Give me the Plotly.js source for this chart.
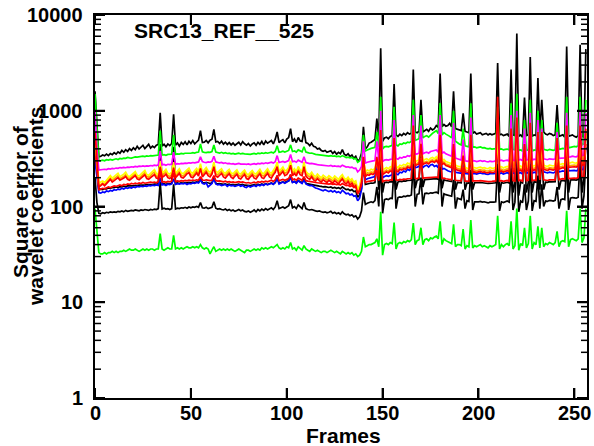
<!DOCTYPE html>
<html><head><meta charset="utf-8">
<script src="https://cdn.plot.ly/plotly-3.0.1.min.js"></script>
<style>html,body{margin:0;padding:0;background:#fff}#chart{width:594px;height:446px}</style>
</head><body><div id="chart"></div>
<script>
// Square error of wavelet coefficients per frame (frames 0..256)
const blackTop = [
1600,700,330,335,345,338,352,340,358,348,
365,352,372,360,385,368,392,376,402,385,
410,392,425,398,412,436,402,424,446,408,
428,412,436,445,950,428,446,420,450,432,
455,920,436,460,428,466,445,475,440,480,
455,488,450,472,495,620,465,470,490,462,
492,505,640,472,478,455,480,448,470,445,
465,440,460,436,455,468,440,476,452,438,
455,428,450,462,436,468,446,478,440,482,
458,476,488,450,505,600,465,485,498,462,
505,525,650,475,508,466,526,484,478,620,
465,455,432,458,425,418,398,405,385,378,
385,368,372,382,358,375,352,368,356,392,
352,342,355,332,345,318,335,300,310,360,
680,400,420,460,470,480,500,830,510,4500,
480,520,530,510,540,550,1900,560,540,570,
550,580,560,590,570,580,2700,600,590,610,
1300,600,620,640,610,660,630,650,700,670,
2450,680,720,690,700,740,680,1600,650,640,
630,620,940,610,600,590,2450,580,600,570,
580,590,560,570,580,560,575,560,570,580,
3150,560,570,550,560,570,540,2700,560,550,
6400,540,560,530,1370,550,560,3650,540,560,
550,2200,580,1300,600,570,560,580,570,550,
560,1150,540,550,560,530,4700,540,550,560,
540,530,550,4900,540,530,4400];
const greenTop = [
1500,600,300,302,305,300,308,305,310,306,
312,315,310,318,315,320,318,325,322,320,
325,330,328,332,330,335,332,338,335,340,
338,342,340,345,620,345,348,342,350,348,
352,560,350,355,352,358,355,360,358,362,
360,365,362,368,370,450,372,368,365,370,
368,375,440,370,365,362,368,360,365,358,
360,355,358,352,356,360,354,358,355,352,
355,350,354,358,352,360,356,362,358,365,
360,365,370,362,375,430,368,372,378,370,
380,385,440,375,380,370,390,378,372,420,
370,365,360,362,355,350,348,345,342,340,
342,338,336,340,335,338,332,335,330,340,
330,325,328,322,325,315,318,290,300,330,
560,380,390,400,405,410,415,600,420,1400,
400,420,425,420,430,435,1100,440,430,450,
445,460,455,470,465,480,1300,490,500,510,
900,520,540,550,530,560,580,600,620,580,
1200,560,590,570,560,540,520,1000,480,460,
450,440,650,430,425,420,1200,415,420,410,
415,420,410,412,405,400,405,398,400,402,
1100,395,400,390,395,398,390,1200,395,390,
1500,385,390,380,800,385,390,1300,380,390,
385,1000,390,800,395,390,385,395,390,385,
390,750,395,400,405,400,1400,410,415,420,
425,420,430,1400,440,450,1300];
const magentaLine = [
1000,400,240,242,240,245,243,248,246,250,
248,252,250,255,253,256,254,258,256,260,
258,262,260,264,262,265,263,266,264,268,
266,270,268,272,380,272,275,270,276,274,
278,370,276,280,278,282,280,284,282,286,
284,288,286,290,292,330,294,290,288,292,
290,296,335,292,288,285,288,282,286,280,
282,278,280,276,279,282,277,280,278,275,
278,274,277,280,276,282,279,284,280,286,
282,286,290,284,294,340,288,292,296,290,
298,302,350,294,298,290,305,295,290,330,
288,284,280,282,278,276,274,272,270,268,
270,266,265,268,263,266,262,264,260,270,
262,258,260,255,258,250,252,230,240,262,
480,285,290,295,298,300,302,480,305,1000,
295,305,308,305,310,312,800,318,312,325,
320,330,328,340,335,345,900,350,355,360,
700,355,365,370,360,375,380,385,390,370,
900,360,370,355,350,340,335,750,320,315,
310,305,500,300,298,295,850,298,300,295,
298,302,296,300,295,292,298,294,296,300,
850,300,305,298,302,305,298,900,305,300,
1000,305,310,300,650,305,310,950,305,312,
308,800,312,650,315,310,308,315,312,310,
315,600,318,320,325,322,950,328,330,335,
332,330,338,1000,340,345,950];
const yellowLine = [
600,300,175,180,185,178,190,200,210,198,
205,215,222,205,210,218,228,210,205,215,
225,232,212,208,218,230,238,215,212,222,
235,242,220,215,300,225,232,245,222,218,
228,290,222,235,248,225,220,232,245,252,
228,222,238,250,232,280,228,240,255,235,
228,242,290,232,226,238,248,228,222,235,
245,225,220,232,242,222,218,230,240,220,
215,228,238,222,218,232,245,225,220,235,
248,228,222,238,255,290,232,245,258,235,
240,255,300,235,248,232,262,240,235,290,
232,222,215,228,212,205,218,208,200,212,
205,198,210,202,195,208,198,192,205,215,
198,192,202,188,195,180,185,150,165,200,
320,230,240,235,245,240,250,320,245,620,
240,250,255,248,260,255,600,262,255,270,
265,275,270,285,278,290,650,295,300,305,
500,300,310,315,305,320,325,315,330,310,
600,300,310,295,290,285,280,500,270,265,
262,258,380,255,252,250,560,252,255,250,
255,258,252,255,250,248,255,250,252,256,
560,255,260,252,258,262,255,600,260,255,
650,260,265,255,420,260,265,620,260,268,
262,500,268,420,270,265,262,270,268,265,
270,400,272,275,280,276,620,282,285,290,
286,284,292,640,295,300,600];
const orangeLine = [
550,280,165,170,176,170,180,190,198,188,
195,204,210,196,200,206,215,200,196,205,
212,220,202,198,206,218,225,205,202,210,
222,228,208,205,280,212,220,230,210,206,
215,270,210,222,235,212,208,220,232,238,
215,210,225,236,220,265,215,228,240,222,
215,230,275,220,214,225,235,216,210,222,
232,213,208,220,230,210,206,218,228,208,
204,216,226,210,206,220,232,212,208,222,
235,216,210,226,240,275,220,232,245,222,
228,242,285,222,235,220,248,228,222,275,
220,210,204,215,200,195,206,196,190,200,
194,188,198,190,185,196,188,182,194,204,
188,182,192,178,185,170,176,142,156,190,
300,215,225,222,230,226,235,300,232,580,
226,235,240,234,245,240,560,246,240,255,
250,258,255,268,262,272,600,278,282,288,
470,284,292,296,288,302,306,298,312,292,
560,284,292,278,274,268,264,470,255,250,
246,243,360,240,238,236,520,238,240,236,
240,243,238,240,236,234,240,236,238,242,
520,240,245,238,243,247,240,560,245,240,
600,245,250,240,390,245,250,580,245,252,
247,470,252,390,255,250,247,255,252,250,
255,375,256,260,264,260,580,266,268,272,
270,268,275,600,278,282,560];
const redUpper = [
600,280,160,165,172,165,175,185,192,180,
186,195,200,188,192,198,206,192,188,196,
204,210,194,190,198,208,214,196,192,200,
210,216,198,195,260,202,208,218,200,196,
204,255,200,210,222,202,198,208,220,226,
204,200,212,224,208,250,204,216,228,210,
204,218,260,208,202,212,222,204,198,210,
220,202,196,208,218,198,194,206,216,196,
192,204,214,198,194,208,220,200,196,210,
222,204,198,214,228,260,208,220,232,210,
215,230,270,210,222,208,236,215,210,260,
208,198,192,204,190,185,195,186,180,190,
184,178,188,180,175,186,178,172,184,194,
178,172,182,168,175,160,166,135,148,180,
330,205,215,212,220,216,225,330,222,630,
216,225,230,224,235,230,520,236,230,245,
240,248,245,258,252,262,700,268,272,278,
450,274,282,286,278,292,296,288,302,282,
560,274,282,268,264,258,254,450,245,240,
236,233,340,230,228,226,560,228,230,226,
230,233,228,230,226,224,230,226,228,232,
1400,230,235,228,233,237,230,650,235,230,
850,235,240,230,450,235,240,750,235,242,
237,600,242,600,245,240,237,245,242,240,
245,520,246,250,254,250,700,256,258,262,
260,258,265,700,268,272,650];
const redLower = [
400,220,150,152,155,153,158,160,158,162,
164,162,166,168,165,170,168,172,170,174,
172,175,173,176,174,178,175,177,176,180,
178,180,177,182,230,180,182,179,183,181,
184,225,182,185,183,186,184,187,185,188,
186,189,187,190,188,205,189,187,190,188,
186,189,210,187,184,185,183,181,184,180,
182,179,181,178,180,182,179,181,178,176,
178,175,177,180,176,182,179,183,180,184,
181,185,188,183,190,210,186,189,192,188,
194,196,215,190,194,188,198,192,188,205,
186,184,182,183,180,178,177,176,175,173,
174,172,171,173,170,172,169,171,168,174,
168,165,167,162,165,158,160,140,148,168,
260,178,182,184,186,185,188,240,186,400,
182,186,188,186,190,189,380,190,188,192,
190,193,192,195,194,196,420,197,196,199,
320,197,199,200,198,201,200,202,203,200,
400,196,198,195,194,192,190,330,188,187,
186,185,260,184,184,183,380,184,185,184,
185,186,184,185,183,182,184,183,184,185,
500,184,186,183,185,187,184,420,186,184,
520,186,188,184,320,186,188,450,186,189,
187,380,189,320,190,188,187,190,189,188,
190,300,191,193,195,193,460,196,197,199,
198,197,200,480,202,204,450];
const blueLine = [
300,200,140,138,142,140,145,143,147,145,
150,148,152,150,155,152,157,155,158,156,
160,158,162,160,163,161,164,162,166,164,
167,165,168,166,200,168,170,166,171,169,
172,195,170,173,171,174,172,175,170,174,
172,176,174,178,176,190,175,172,176,160,
168,174,195,172,168,170,165,168,170,162,
168,164,166,162,165,168,163,166,160,158,
164,160,163,166,162,168,165,170,166,172,
168,172,175,170,178,195,172,176,180,175,
182,185,200,178,182,175,186,178,174,190,
172,168,165,166,160,156,154,152,150,146,
150,145,143,147,142,146,140,143,138,148,
140,136,138,132,135,128,130,115,122,150,
250,190,195,198,200,202,205,260,205,380,
200,206,210,207,212,215,360,220,215,228,
225,235,230,245,238,250,400,255,258,262,
320,255,265,270,258,272,275,262,268,255,
380,245,250,240,236,232,230,320,228,226,
224,222,280,220,220,218,360,220,222,218,
222,224,220,222,218,216,220,218,220,222,
420,220,224,218,222,225,220,400,224,220,
450,222,226,218,300,222,226,420,222,228,
224,340,228,300,230,226,224,228,226,224,
228,290,229,232,235,232,420,236,238,240,
238,236,240,430,242,245,420];
const blackMid = [
500,250,150,152,150,154,153,156,155,158,
157,160,158,161,160,163,161,164,163,165,
164,166,165,167,166,168,167,169,168,170,
169,171,170,172,450,171,173,170,174,172,
175,420,173,176,174,177,175,178,176,179,
177,180,178,181,179,200,178,176,179,175,
174,177,205,175,172,173,171,170,172,169,
171,168,170,167,169,171,168,170,167,166,
168,165,167,170,166,171,168,172,169,173,
170,174,176,172,178,210,175,178,181,177,
183,185,215,180,183,177,187,181,177,200,
175,172,170,171,168,165,164,163,162,160,
161,159,158,160,156,158,155,157,153,160,
154,150,152,147,150,143,145,125,132,155,
320,170,172,175,176,175,178,300,150,700,
140,178,180,178,182,181,550,150,180,184,
182,185,184,187,186,188,600,155,188,191,
450,160,191,192,190,193,192,194,195,192,
550,155,190,187,186,184,182,400,150,179,
178,177,300,150,176,175,500,150,177,176,
177,178,176,177,175,174,176,175,176,177,
600,140,178,175,177,179,176,550,140,176,
700,130,180,176,350,140,180,600,140,181,
179,450,150,350,150,180,179,182,181,180,
182,330,150,185,187,185,650,140,189,191,
190,189,192,650,140,196,600];
const blackBottom = [
200,110,85,84,86,85,87,86,88,87,
88,87,89,88,90,88,91,89,90,91,
90,92,91,90,92,91,93,92,91,93,
92,94,93,95,180,94,96,94,95,93,
95,170,94,96,95,97,96,98,96,99,
97,99,98,100,98,110,97,96,98,95,
96,98,112,96,94,95,93,92,94,91,
93,90,92,89,91,93,90,92,89,88,
90,87,89,92,88,93,90,94,91,95,
92,95,97,93,99,115,95,97,99,96,
100,102,118,97,100,95,104,98,95,110,
95,93,92,93,91,90,89,90,88,87,
88,86,87,89,85,87,84,86,83,88,
84,82,83,80,82,78,80,74,78,90,
140,105,108,110,112,110,115,160,100,300,
85,118,120,118,122,121,260,95,124,126,
125,128,127,130,129,132,280,100,134,136,
200,105,137,138,136,139,138,140,141,138,
260,100,136,133,132,130,128,190,95,122,
120,118,150,95,115,113,240,92,112,111,
112,113,111,112,110,109,111,110,111,112,
280,90,112,110,112,114,111,250,92,111,
320,88,114,110,170,92,114,280,90,115,
113,210,95,170,100,114,113,116,115,114,
116,160,95,118,120,118,300,92,122,124,
123,122,125,320,95,128,300];
const greenBottom = [
95,50,33,32,32,33,32,33,33,34,
33,34,33,34,34,35,34,35,36,35,
35,36,35,34,35,36,35,36,35,36,
36,35,36,36,52,36,35,36,37,36,
36,50,36,37,36,37,36,37,38,37,
37,38,37,38,37,40,37,36,37,36,
32,35,38,34,35,36,35,36,35,36,
35,36,35,34,35,36,35,34,33,35,
35,34,35,36,35,36,35,37,36,37,
36,37,38,37,39,40,37,36,37,36,
38,37,42,36,37,35,38,36,35,39,
36,35,34,36,35,34,35,34,33,34,
34,33,34,35,34,33,34,33,32,34,
33,32,33,32,33,31,32,30,31,34,
48,38,39,40,40,41,42,46,38,88,
31,40,41,40,42,41,68,36,41,42,
41,43,42,44,43,45,67,40,44,45,
60,40,45,46,44,47,46,48,49,46,
70,40,46,44,43,42,41,65,38,40,
40,39,58,36,39,38,72,37,39,38,
39,40,38,39,38,37,39,38,39,40,
80,36,40,38,40,41,39,70,36,39,
95,35,41,39,60,37,41,80,36,42,
40,62,37,60,38,41,40,42,41,40,
42,55,38,43,44,43,90,38,45,46,
45,44,46,95,42,47,95];

const chartTitle = 'SRC13_REF__525';
const xTitle = 'Frames';
const yTitleLines = ['Square error of', 'wavelet coefficients'];
const xTickVals = [0, 50, 100, 150, 200, 250];
const xTickText = ['0', '50', '100', '150', '200', '250'];
const yTickVals = [1, 10, 100, 1000, 10000];
const yTickText = ['1', '10', '100', '1000', '10000'];
const yMinorTickVals = [];
for (const d of [1, 10, 100, 1000]) for (let k = 2; k <= 9; k++) yMinorTickVals.push(d * k);

const X_RANGE = [0, 256.6];
const Y_LOG_RANGE = [0, 4];
const PLOT_W = 492, PLOT_H = 383;

const series = [
  {y: blackTop, color: '#000000'},
  {y: blackMid, color: '#000000'},
  {y: blackBottom, color: '#000000'},
  {y: blueLine, color: '#0000ff'},
  {y: redLower, color: '#ff0000'},
  {y: orangeLine, color: '#ffa500'},
  {y: yellowLine, color: '#ffff00'},
  {y: greenTop, color: '#00ff00'},
  {y: magentaLine, color: '#ff00ff'},
  {y: redUpper, color: '#ff0000'},
  {y: greenBottom, color: '#00ff00'}
];

const traces = series.map(s => ({
  type: 'scatter', mode: 'lines',
  x: s.y.map((_, i) => i), y: s.y,
  line: {color: s.color, width: 1.7},
  hoverinfo: 'skip', showlegend: false
}));

// inside, mirrored tick marks (lengths converted from pixels to axis units)
const pxX = (X_RANGE[1] - X_RANGE[0]) / PLOT_W;
const pxDec = (Y_LOG_RANGE[1] - Y_LOG_RANGE[0]) / PLOT_H;
function tickTrace(width, segs) {
  const tx = [], ty = [];
  segs.forEach(s => { tx.push(s[0], s[2], null); ty.push(s[1], s[3], null); });
  return {type: 'scatter', mode: 'lines', x: tx, y: ty, line: {color: '#000', width: width},
          hoverinfo: 'skip', showlegend: false, connectgaps: false};
}
const yLo = Math.pow(10, Y_LOG_RANGE[0]), yHi = Math.pow(10, Y_LOG_RANGE[1]);
const majorSegs = [];
xTickVals.forEach(v => {
  majorSegs.push([v, yLo, v, Math.pow(10, Y_LOG_RANGE[0] + 10 * pxDec)]);
  majorSegs.push([v, yHi, v, Math.pow(10, Y_LOG_RANGE[1] - 10 * pxDec)]);
});
yTickVals.forEach(v => {
  majorSegs.push([X_RANGE[0], v, X_RANGE[0] + 10 * pxX, v]);
  majorSegs.push([X_RANGE[1], v, X_RANGE[1] - 10 * pxX, v]);
});
const minorSegs = [];
yMinorTickVals.forEach(v => {
  minorSegs.push([X_RANGE[0], v, X_RANGE[0] + 6 * pxX, v]);
  minorSegs.push([X_RANGE[1], v, X_RANGE[1] - 6 * pxX, v]);
});
traces.push(tickTrace(2, majorSegs));
traces.push(tickTrace(1.5, minorSegs));

const FF = 'Arial, "Liberation Sans", sans-serif';
const boldFont = (size) => ({family: FF, size: size, color: '#000', weight: 'bold'});

const annotations = [];
xTickVals.forEach((v, i) => annotations.push({
  text: xTickText[i], xref: 'x', yref: 'paper', x: v, y: (398 - 413) / 383,
  xanchor: 'center', yanchor: 'middle', showarrow: false, font: boldFont(20)
}));
yTickVals.forEach((v, i) => annotations.push({
  text: yTickText[i], xref: 'paper', yref: 'y', x: (85 - 95) / 492, y: Math.log10(v),
  xanchor: 'right', yanchor: 'middle', showarrow: false, font: boldFont(20)
}));
annotations.push({text: xTitle, xref: 'paper', yref: 'paper', x: (343 - 95) / 492, y: (398 - 435) / 383,
  xanchor: 'center', yanchor: 'middle', showarrow: false, font: boldFont(21)});
annotations.push({text: yTitleLines[0], xref: 'paper', yref: 'paper', x: (20 - 95) / 492, y: (398 - 202) / 383,
  xanchor: 'center', yanchor: 'middle', textangle: -90, showarrow: false, font: boldFont(21)});
annotations.push({text: yTitleLines[1], xref: 'paper', yref: 'paper', x: (35 - 95) / 492, y: (398 - 207) / 383,
  xanchor: 'center', yanchor: 'middle', textangle: -90, showarrow: false, font: boldFont(21)});

const layout = {
  width: 594, height: 446,
  margin: {l: 95, r: 7, t: 15, b: 48},
  paper_bgcolor: '#ffffff', plot_bgcolor: '#ffffff',
  showlegend: false,
  font: {family: FF, color: '#000'},
  title: {text: chartTitle, font: boldFont(21),
          x: 224 / 594, xanchor: 'center', y: 1 - 30.5 / 446, yanchor: 'middle'},
  xaxis: {
    range: X_RANGE, showticklabels: false,
    tickmode: 'array', tickvals: xTickVals, ticks: 'inside', ticklen: 10, tickwidth: 2, tickcolor: '#000',
    showline: true, linewidth: 2, linecolor: '#000', mirror: 'ticks',
    showgrid: false, zeroline: false
  },
  yaxis: {
    type: 'log', range: Y_LOG_RANGE, showticklabels: false,
    tickmode: 'array', tickvals: yTickVals, ticks: 'inside', ticklen: 10, tickwidth: 2, tickcolor: '#000',
    showline: true, linewidth: 2, linecolor: '#000', mirror: 'ticks',
    showgrid: false, zeroline: false
  },
  annotations: annotations
};

Plotly.newPlot('chart', traces, layout, {staticPlot: true, displayModeBar: false});
</script>
</body></html>
